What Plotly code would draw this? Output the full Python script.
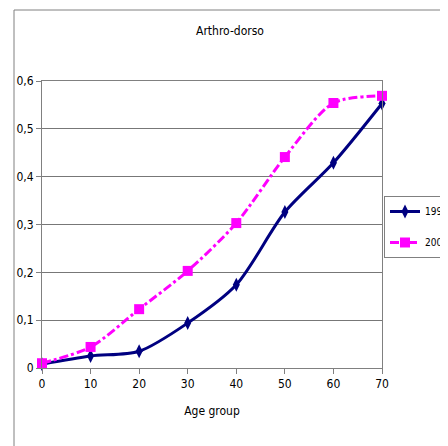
import plotly.graph_objects as go

ages = [0, 10, 20, 30, 40, 50, 60, 70]
series_1999 = [0.008, 0.025, 0.035, 0.094, 0.174, 0.326, 0.429, 0.553]
series_2009 = [0.010, 0.044, 0.123, 0.203, 0.303, 0.441, 0.554, 0.569]
series_names = ["199", "200"]
y_ticks = [0, 0.1, 0.2, 0.3, 0.4, 0.5, 0.6]
x_ticks = [0, 10, 20, 30, 40, 50, 60, 70]

FONT = "DejaVu Sans Condensed, Liberation Sans Narrow, Arial Narrow, sans-serif"

fig = go.Figure()
fig.add_trace(go.Scatter(
    x=ages, y=series_1999, name=series_names[0], mode="lines+markers", legendgroup="a",
    line=dict(color="#000080", width=3, shape="spline", smoothing=0.8),
    marker=dict(symbol="diamond-tall", size=10, color="#000080"),
    cliponaxis=False,
))
fig.add_trace(go.Scatter(
    x=ages, y=series_2009, name=series_names[1], mode="lines+markers", legendgroup="b",
    line=dict(color="#FF00FF", width=3, shape="spline", smoothing=0.8, dash="dashdot"),
    marker=dict(symbol="square", size=10, color="#FF00FF"),
    cliponaxis=False,
))

# The page body has an 8px margin, so offsets below are reduced accordingly
fig.update_layout(
    width=448, height=446,
    margin=dict(l=34, r=74, t=73, b=86, autoexpand=False),
    paper_bgcolor="white", plot_bgcolor="white",
    font=dict(family=FONT, size=12, color="black"),
    title=dict(text="Arthro-dorso", x=222 / 448, xanchor="center", y=1 - 23 / 446, yanchor="middle",
               font=dict(family=FONT, size=12)),
    showlegend=True,
    legend=dict(x=(384 - 42) / 340, xanchor="left", y=(368 - 196) / 287, yanchor="top",
                bordercolor="#808080", borderwidth=1, bgcolor="white",
                font=dict(family=FONT, size=10), itemwidth=30, tracegroupgap=12),
    xaxis=dict(range=[0, 70], tickvals=x_ticks, ticks="outside", ticklen=5, tickcolor="#808080",
               showline=True, linecolor="#808080", mirror=True, showgrid=False, zeroline=False,
               title=dict(text="Age group", font=dict(family=FONT, size=12), standoff=16),
               tickfont=dict(family=FONT, size=12)),
    yaxis=dict(range=[0, 0.6], ticks="outside", ticklen=5,
               tickcolor="#808080", showline=True, linecolor="#808080", mirror=True,
               showgrid=True, gridcolor="#777777", gridwidth=1, zeroline=False,
               tickvals=y_ticks,
               ticktext=["0" if v == 0 else f"{v:.1f}".replace(".", ",") for v in y_ticks],
               tickfont=dict(family=FONT, size=12)),
)

# outer chart-area border
fig.add_shape(type="rect", xref="paper", yref="paper",
              x0=(14 - 42) / 340, x1=(470 - 42) / 340,
              y0=(368 - 470) / 287, y1=(368 - 10) / 287,
              line=dict(color="#808080", width=1), fillcolor="rgba(0,0,0,0)", layer="below")

fig.write_html("out.html")
